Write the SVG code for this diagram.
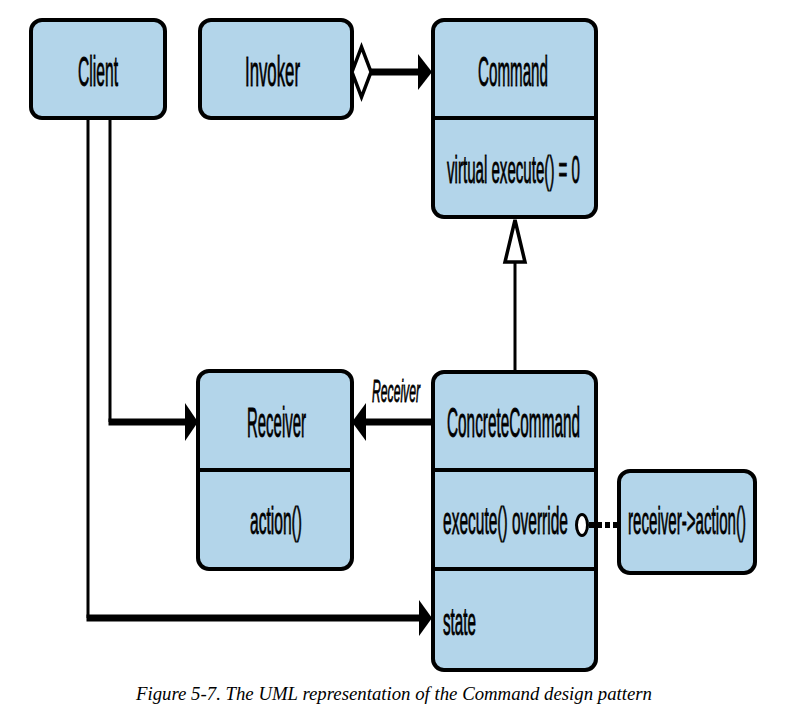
<svg xmlns="http://www.w3.org/2000/svg" width="785" height="713" viewBox="0 0 785 713">
<style>
.box{fill:#b3d5ea;stroke:#000;stroke-width:4}
.div{stroke:#000;stroke-width:4}
.t{font-family:"Liberation Sans","DejaVu Sans",sans-serif;fill:#000;stroke:#000;stroke-width:0.8}
.h{font-size:42px}
.m{font-size:38px}
.thin{stroke:#000;stroke-width:3;fill:none}
.thick{stroke:#000;stroke-width:7;fill:none}
.head{fill:#000}
.hollow{fill:#fff;stroke:#000;stroke-width:3.5}
</style>
<rect width="785" height="713" fill="#fff"/>
<g id="client">
  <rect class="box" x="31" y="20" width="134" height="98" rx="11"/>
  <text class="t h" transform="translate(78,86) scale(0.4,1)" textLength="100" lengthAdjust="spacingAndGlyphs">Client</text>
</g>
<g id="invoker">
  <rect class="box" x="200" y="20" width="152" height="98" rx="11"/>
  <text class="t h" transform="translate(245,86) scale(0.4,1)" textLength="137.5" lengthAdjust="spacingAndGlyphs">Invoker</text>
</g>
<g id="command">
  <rect class="box" x="433" y="20" width="163" height="197" rx="11"/>
  <line class="div" x1="433" y1="118" x2="596" y2="118"/>
  <text class="t h" transform="translate(478,86) scale(0.4,1)" textLength="175" lengthAdjust="spacingAndGlyphs">Command</text>
  <text class="t m" transform="translate(447,183) scale(0.42,1)" textLength="316.7" lengthAdjust="spacingAndGlyphs">virtual execute() = 0</text>
</g>
<g id="receiver">
  <rect class="box" x="198" y="371" width="154" height="198" rx="11"/>
  <line class="div" x1="198" y1="470" x2="352" y2="470"/>
  <text class="t h" transform="translate(247,437) scale(0.4,1)" textLength="147.5" lengthAdjust="spacingAndGlyphs">Receiver</text>
  <text class="t m" transform="translate(250,534) scale(0.42,1)" textLength="123.8" lengthAdjust="spacingAndGlyphs">action()</text>
</g>
<g id="concretecommand">
  <rect class="box" x="433" y="372" width="163" height="298" rx="11"/>
  <line class="div" x1="433" y1="470" x2="596" y2="470"/>
  <line class="div" x1="433" y1="569" x2="596" y2="569"/>
  <text class="t h" transform="translate(447,437) scale(0.4,1)" textLength="332.5" lengthAdjust="spacingAndGlyphs">ConcreteCommand</text>
  <text class="t m" transform="translate(443,534) scale(0.42,1)" textLength="297.6" lengthAdjust="spacingAndGlyphs">execute() override</text>
  <text class="t m" transform="translate(443,635) scale(0.42,1)" textLength="78.6" lengthAdjust="spacingAndGlyphs">state</text>
</g>
<g id="note">
  <rect class="box" x="619" y="471" width="136" height="102" rx="11"/>
  <text class="t m" transform="translate(628,534) scale(0.42,1)" textLength="281" lengthAdjust="spacingAndGlyphs">receiver-&gt;action()</text>
</g>
<g id="connectors">
  <!-- Invoker aggregates Command -->
  <line class="thick" x1="370" y1="72" x2="421" y2="72"/>
  <polygon class="head" points="418,54 432,72 418,90"/>
  <polygon class="hollow" points="352,72 361.5,47 371,72 361.5,97"/>
  <!-- ConcreteCommand generalizes Command -->
  <line class="thin" x1="515" y1="262" x2="515" y2="371"/>
  <polygon class="hollow" points="515,220 525,262 505,262"/>
  <!-- ConcreteCommand -> Receiver -->
  <line class="thick" x1="431" y1="422" x2="364" y2="422"/>
  <polygon class="head" points="366,403 352,422 366,441"/>
  <text class="t" transform="translate(372,402) scale(0.45,1)" font-size="31" font-style="italic" stroke-width="0.2" textLength="106.7" lengthAdjust="spacingAndGlyphs">Receiver</text>
  <!-- Client -> Receiver -->
  <line class="thin" x1="110" y1="120" x2="110" y2="422"/>
  <line class="thick" x1="108.5" y1="422" x2="187" y2="422"/>
  <polygon class="head" points="185,403 198,422 185,441"/>
  <!-- Client -> state -->
  <line class="thin" x1="88" y1="120" x2="88" y2="618"/>
  <line class="thick" x1="86.5" y1="618" x2="421" y2="618"/>
  <polygon class="head" points="419,600 432,618 419,636"/>
  <!-- note link -->
  <line x1="589" y1="525" x2="617" y2="525" stroke="#000" stroke-width="6" stroke-dasharray="5 3"/>
  <ellipse cx="582" cy="525" rx="5.5" ry="10.5" fill="#fff" stroke="#000" stroke-width="3"/>
</g>
<text x="136" y="700" font-family="'Liberation Serif',serif" font-style="italic" font-size="18" textLength="516" lengthAdjust="spacingAndGlyphs">Figure 5-7. The UML representation of the Command design pattern</text>
</svg>
